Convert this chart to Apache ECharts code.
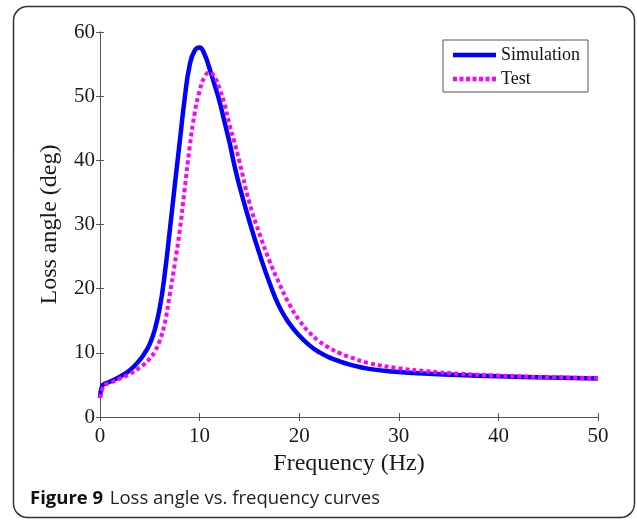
<!DOCTYPE html>
<html>
<head>
<meta charset="utf-8">
<script src="https://cdn.jsdelivr.net/npm/echarts@6/dist/echarts.min.js"></script>
</head>
<body style="margin:0;padding:0;background:#fff">
<div id="chart" style="width:637px;height:520px;"></div>
<script type="text/javascript">
// values
var freq = [0, 0.2, 0.5, 1, 2, 3, 4, 4.5, 5, 5.5, 6, 6.5, 7, 7.5, 8, 8.5, 9, 9.5, 10, 10.5, 11, 11.5, 12, 12.5, 13, 13.5, 14, 15, 16, 17, 18, 19, 20, 21, 22, 23, 24, 25, 27, 30, 33, 36, 40, 45, 50];
var simAngle = [3.0, 4.8, 5.2, 5.5, 6.3, 7.3, 8.9, 10.0, 11.4, 13.6, 17.0, 22.3, 29.0, 36.0, 42.8, 49.6, 54.8, 57.1, 57.6, 56.5, 54.3, 51.8, 49.2, 46.0, 42.8, 39.2, 36.0, 30.5, 25.5, 21.0, 17.2, 14.6, 12.7, 11.2, 10.1, 9.3, 8.7, 8.2, 7.5, 7.0, 6.75, 6.55, 6.35, 6.15, 6.0];
var testAngle = [3.0, 4.2, 5.0, 5.3, 6.0, 6.7, 7.7, 8.3, 9.1, 10.2, 11.9, 14.6, 19.0, 23.8, 29.0, 35.5, 42.0, 47.3, 50.8, 53.0, 53.7, 53.0, 51.2, 48.8, 45.6, 42.8, 39.8, 33.4, 28.6, 24.4, 20.8, 17.6, 15.1, 13.2, 11.8, 10.8, 10.0, 9.4, 8.4, 7.6, 7.1, 6.75, 6.45, 6.2, 6.05];

var seriesNames = ['Simulation', 'Test'];

function pairs(xs, ys) {
    var out = [];
    for (var i = 0; i < xs.length; i++) out.push([xs[i], ys[i]]);
    return out;
}

var serif = '"Liberation Serif", "Times New Roman", serif';
var axisGray = '#555';
// legend swatches: solid bar and row of square dots
var solidIcon = 'path://M0,0h43v4.5h-43z';
var dotIcon = 'path://M0,0h4v4.5h-4z M6.5,0h4v4.5h-4z M13,0h4v4.5h-4z M19.5,0h4v4.5h-4z M26,0h4v4.5h-4z M32.5,0h4v4.5h-4z M39,0h4v4.5h-4z';

function boxAxis(extra) {
    var ax = {
        type: 'value',
        axisLine: { show: true, lineStyle: { color: axisGray, width: 1 } },
        axisTick: { show: true, inside: true, length: 4, lineStyle: { color: axisGray } },
        splitLine: { show: false }
    };
    for (var k in extra) ax[k] = extra[k];
    return ax;
}

var myChart = echarts.init(document.getElementById('chart'));
var option = {
    backgroundColor: '#fff',
    animation: false,
    grid: { left: 100, right: 39, top: 32, bottom: 103 },
    legend: {
        orient: 'vertical',
        left: 443,
        top: 40,
        data: [
            { name: seriesNames[0], icon: solidIcon },
            { name: seriesNames[1], icon: dotIcon }
        ],
        itemWidth: 43,
        itemHeight: 4.5,
        itemGap: 6,
        padding: [6, 8, 4, 10],
        borderColor: axisGray,
        borderWidth: 1,
        textStyle: { fontFamily: serif, fontSize: 18, color: '#111', lineHeight: 18 }
    },
    xAxis: [
        boxAxis({
            min: 0, max: 50, interval: 10,
            name: 'Frequency (Hz)', nameLocation: 'middle', nameGap: 29,
            nameTextStyle: { fontFamily: serif, fontSize: 24, color: '#1a1a1a' },
            axisLabel: { fontFamily: serif, fontSize: 21, color: '#1a1a1a', margin: 9 }
        }),
        boxAxis({ min: 0, max: 50, interval: 10, position: 'top', axisLabel: { show: false } })
    ],
    yAxis: [
        boxAxis({
            min: 0, max: 60, interval: 10,
            name: 'Loss angle (deg)', nameLocation: 'middle', nameGap: 38,
            nameTextStyle: { fontFamily: serif, fontSize: 24, color: '#1a1a1a' },
            axisLabel: { fontFamily: serif, fontSize: 21, color: '#1a1a1a', margin: 5 }
        }),
        boxAxis({ min: 0, max: 60, interval: 10, position: 'right', axisLabel: { show: false } })
    ],
    series: [
        {
            name: seriesNames[0], type: 'line', smooth: true, symbol: 'none',
            data: pairs(freq, simAngle),
            lineStyle: { color: '#0000ff', width: 4.5 },
            itemStyle: { color: '#0000ff' },
            z: 2
        },
        {
            name: seriesNames[1], type: 'line', smooth: true, symbol: 'none',
            data: pairs(freq, testAngle),
            lineStyle: { color: '#ff00ff', width: 4, type: [4, 3] },
            itemStyle: { color: '#ff00ff' },
            z: 3
        }
    ],
    graphic: [
        {
            type: 'rect', silent: true, z: -1,
            shape: { x: 13.5, y: 6.5, width: 621, height: 511, r: 14 },
            style: { fill: 'none', stroke: '#333', lineWidth: 1.5 }
        },
        {
            type: 'text', left: 30, top: 489,
            style: {
                text: '{b|Figure 9}  {n|Loss angle vs. frequency curves}',
                rich: {
                    b: { fontFamily: '"Open Sans", "Noto Sans", sans-serif', fontWeight: 'bold', fontSize: 18.5, fill: '#111' },
                    n: { fontFamily: '"Open Sans", "Noto Sans", sans-serif', fontSize: 18.5, fill: '#222' }
                }
            }
        }
    ]
};
myChart.setOption(option);
</script>
</body>
</html>
